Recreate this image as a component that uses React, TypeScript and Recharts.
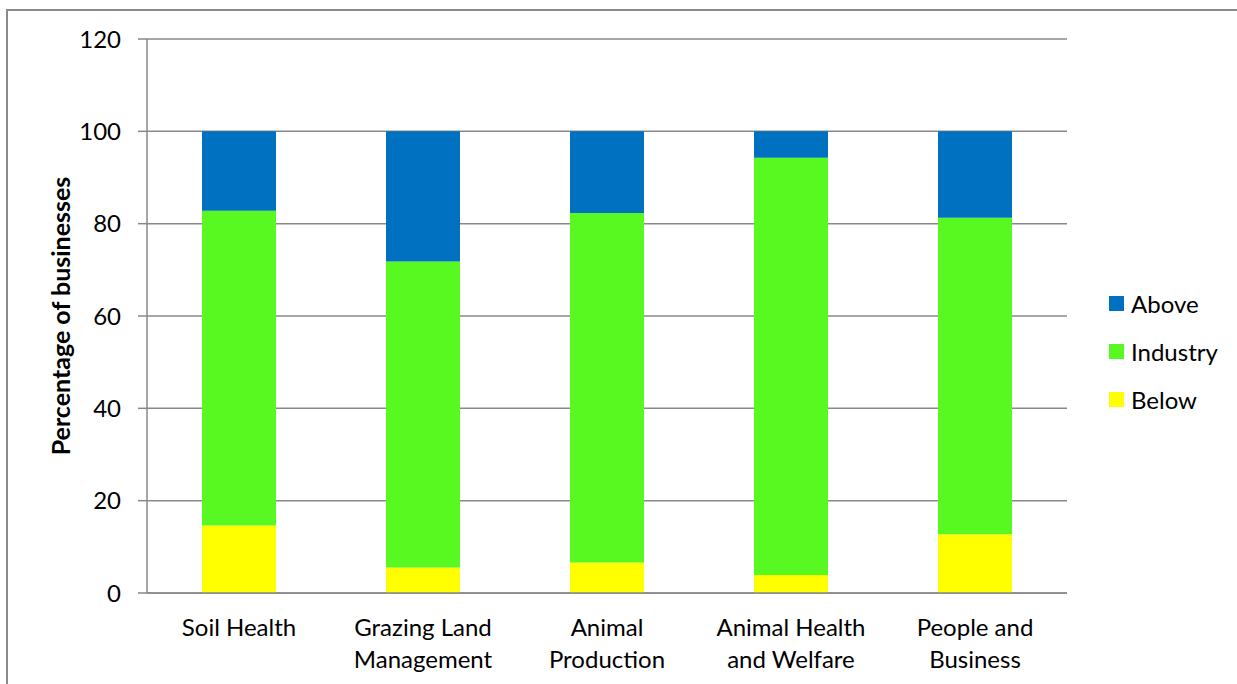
import React from 'react';
import { BarChart, Bar, XAxis, YAxis, CartesianGrid, Label } from 'recharts';

const categories = [
  'Soil Health',
  'Grazing Land Management',
  'Animal Production',
  'Animal Health and Welfare',
  'People and Business',
];
const categoryLines = [
  ['Soil Health'],
  ['Grazing Land', 'Management'],
  ['Animal', 'Production'],
  ['Animal Health', 'and Welfare'],
  ['People and', 'Business'],
];
const below = [14.6, 5.5, 6.6, 3.9, 12.7];
const industry = [68.2, 66.3, 75.7, 90.4, 68.6];
const above = [17.2, 28.2, 17.7, 5.7, 18.7];
const yTicks = [0, 20, 40, 60, 80, 100, 120];

const seriesNames = ['Below', 'Industry', 'Above'];
const seriesColors = ['#FFFF00', '#57F921', '#0070C0'];

const data = categories.map((c, i) => ({
  name: c,
  Below: below[i],
  Industry: industry[i],
  Above: above[i],
}));

const FONT = 'Lato, "Noto Sans", sans-serif';
const GRID = '#888888';

const CategoryTick = (props: any) => {
  const { x, y, index } = props;
  const lines = categoryLines[index] || [String(props.payload?.value ?? '')];
  return (
    <g>
      <text x={x} y={y} textAnchor="middle" fontSize={24} fill="#000" fontFamily={FONT}>
        {lines.map((l: string, j: number) => (
          <tspan key={j} x={x} dy={j === 0 ? 35 : 32}>
            {l}
          </tspan>
        ))}
      </text>
    </g>
  );
};

const ChartLegend = () => {
  const order = [2, 1, 0];
  return (
    <div style={{ position: 'absolute', left: 1109, top: 288, fontFamily: FONT, fontSize: 24, color: '#000' }}>
      {order.map((k, j) => (
        <div key={k} style={{ position: 'absolute', left: 0, top: j * 48, height: 30, display: 'flex', alignItems: 'center', whiteSpace: 'nowrap' }}>
          <div style={{ width: 15, height: 15, background: seriesColors[k], marginRight: 7 }} />
          <span>{seriesNames[k]}</span>
        </div>
      ))}
    </div>
  );
};

export default function App() {
  return (
    <div style={{ position: 'absolute', left: 0, top: 0, width: 1237, height: 684, overflow: 'hidden', background: '#fff', fontFamily: FONT }}>
      <div style={{ position: 'absolute', left: 6, top: 9, width: 1260, height: 720, border: '2px solid #8a8a8a', boxSizing: 'border-box' }} />
      <div style={{ position: 'absolute', left: 0, top: 0 }}>
        <BarChart width={1237} height={684} data={data} margin={{ top: 39, right: 170, bottom: 0, left: 0 }}>
          <CartesianGrid vertical={false} stroke={GRID} strokeWidth={1.5} />
          <XAxis
            dataKey="name"
            tickLine={false}
            axisLine={{ stroke: GRID, strokeWidth: 1.5 }}
            tick={<CategoryTick />}
            interval={0}
            height={91}
          />
          <YAxis
            domain={[0, 120]}
            ticks={yTicks}
            width={147}
            tickSize={9}
            tickMargin={17}
            axisLine={{ stroke: GRID, strokeWidth: 1.5 }}
            tickLine={{ stroke: GRID, strokeWidth: 1.5 }}
            tick={{ fontSize: 24, fill: '#000', fontFamily: FONT }}
          >
            <Label
              content={() => (
                <text
                  x={60}
                  y={316}
                  transform="rotate(-90 60 316)"
                  textAnchor="middle"
                  dominantBaseline="central"
                  fontWeight="bold"
                  fontSize={25}
                  fontFamily={FONT}
                  fill="#000"
                >
                  Percentage of businesses
                </text>
              )}
            />
          </YAxis>
          {seriesNames.map((s, k) => (
            <Bar key={s} dataKey={s} stackId="a" fill={seriesColors[k]} barSize={74} isAnimationActive={false} />
          ))}
        </BarChart>
      </div>
      <ChartLegend />
    </div>
  );
}
